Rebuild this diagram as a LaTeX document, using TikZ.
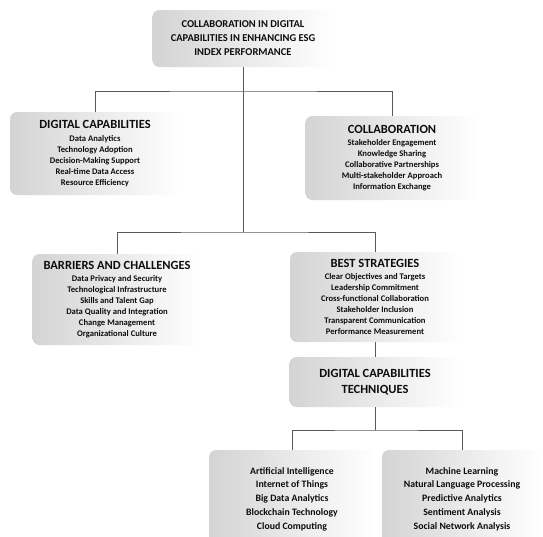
\documentclass[tikz,border=0pt]{standalone}
\usepackage{fontspec}
\setmainfont{Carlito}
\newcommand\ttlfont{\fontsize{12.5}{14}\selectfont\bfseries}
\newcommand\topfont{\fontsize{10.5}{14}\selectfont\bfseries}
\newcommand\itmfont{\fontsize{8.6}{11}\selectfont\bfseries}
\newcommand\bigitmfont{\fontsize{9.8}{13.8}\selectfont\bfseries}
\tikzset{
  box/.style={rounded corners=7pt, left color=black!17, right color=white, draw=none,
    align=center, text=black!95, inner sep=0pt},
  conn/.style={draw=black!65, line width=0.8pt},
}
\begin{document}
\begin{tikzpicture}[x=1pt,y=-1pt]
\useasboundingbox[fill=white] (0,0) rectangle (543,536);
\clip (0,0) rectangle (543,536);

\node[box, minimum width=181pt, minimum height=57pt, font=\topfont] (top) at (243,38.5)
  {COLLABORATION IN DIGITAL\\CAPABILITIES IN ENHANCING ESG\\INDEX PERFORMANCE};

\node[box, minimum width=170pt, minimum height=83pt, font=\itmfont] (dc) at (95,153.5)
  {{\ttlfont DIGITAL CAPABILITIES}\\[1.5pt]Data Analytics\\Technology Adoption\\Decision-Making Support\\Real-time Data Access\\Resource Efficiency};

\node[box, minimum width=173pt, minimum height=84pt, font=\itmfont] (col) at (392,158)
  {{\ttlfont COLLABORATION}\\[1.5pt]Stakeholder Engagement\\Knowledge Sharing\\Collaborative Partnerships\\Multi-stakeholder Approach\\Information Exchange};

\node[box, minimum width=169pt, minimum height=91pt, font=\itmfont] (bc) at (117,299.5)
  {{\ttlfont BARRIERS AND CHALLENGES}\\[1.5pt]Data Privacy and Security\\Technological Infrastructure\\Skills and Talent Gap\\Data Quality and Integration\\Change Management\\Organizational Culture};

\node[box, minimum width=170pt, minimum height=90pt, font=\itmfont] (bs) at (375,297)
  {{\ttlfont BEST STRATEGIES}\\[1.5pt]Clear Objectives and Targets\\Leadership Commitment\\Cross-functional Collaboration\\Stakeholder Inclusion\\Transparent Communication\\Performance Measurement};

\node[box, minimum width=171pt, minimum height=50pt, font=\ttlfont, align=center] (dct) at (375,382)
  {DIGITAL CAPABILITIES\\[2pt]TECHNIQUES};

\node[box, minimum width=166pt, minimum height=98pt, font=\bigitmfont] (ai) at (292,499)
  {Artificial Intelligence\\Internet of Things\\Big Data Analytics\\Blockchain Technology\\Cloud Computing};

\node[box, minimum width=160pt, minimum height=98pt, font=\bigitmfont] (ml) at (462,499)
  {Machine Learning\\Natural Language Processing\\Predictive Analytics\\Sentiment Analysis\\Social Network Analysis};

\coordinate (j1) at (243,91);
\coordinate (j2) at (243,232);
\coordinate (j3) at (375,430);

\draw[conn] (top.south) -- (j2);
\draw[conn] (dc.north) |- (j1) -| (col.north);
\draw[conn] (bc.north) |- (j2) -| (bs.north);
\draw[conn] (bs.south) -- (dct.north);
\draw[conn] (dct.south) -- (j3);
\draw[conn] (ai.north) |- (j3) -| (ml.north);
\end{tikzpicture}
\end{document}
